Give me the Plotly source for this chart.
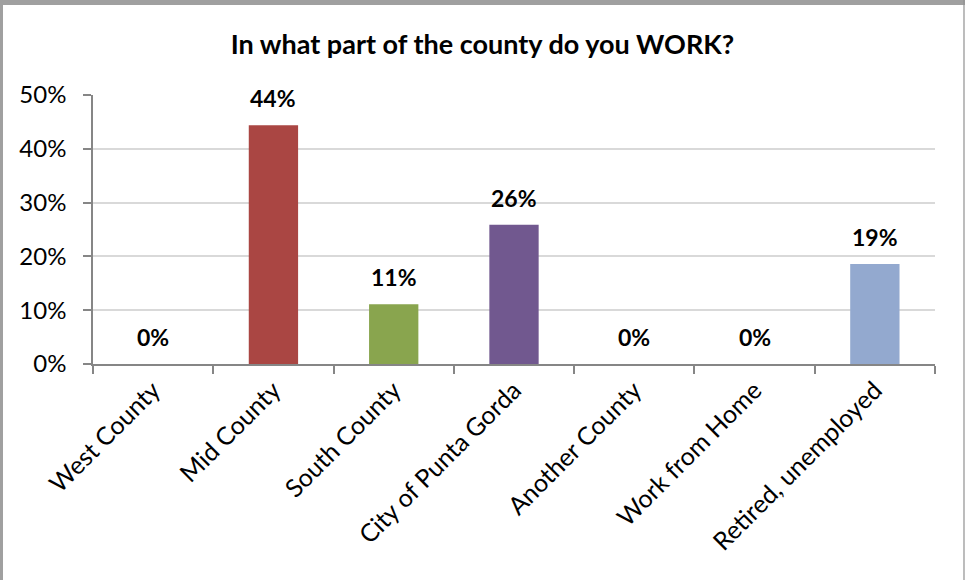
import plotly.graph_objects as go

# Survey responses: where respondents work
categories = ["West County", "Mid County", "South County", "City of Punta Gorda",
              "Another County", "Work from Home", "Retired, unemployed"]
shares = [0.0, 0.444, 0.111, 0.259, 0.0, 0.0, 0.186]
bar_colors = ["#4572A7", "#AA4643", "#89A54E", "#71588F", "#4198AF", "#DB843D", "#93A9CF"]
y_ticks = [0, 0.1, 0.2, 0.3, 0.4, 0.5]
y_tick_labels = ["0%", "10%", "20%", "30%", "40%", "50%"]

W, H = 965, 580
ML, MR, MT, MB = 93, 30, 95, 216
PW, PH = W - ML - MR, H - MT - MB

FONT = "Lato, 'Open Sans', sans-serif"

fig = go.Figure(go.Bar(
    x=categories, y=shares,
    marker=dict(color=bar_colors, line=dict(width=0)),
    width=0.41,
    hoverinfo="x+y",
))

# Bold value labels above each bar
for cat, v in zip(categories, shares):
    fig.add_annotation(
        x=cat, y=v, text=f"<b>{v:.0%}</b>", showarrow=False,
        yshift=27, font=dict(family=FONT, size=23, color="#000000"),
        xanchor="center", yanchor="middle",
    )

# Outer frame of the chart area (gray edges)
def px_x(p):
    return (p - ML) / PW

def px_y(p):
    return 1 - (p - MT) / PH

frame = "#A0A0A0"
fig.add_shape(type="rect", xref="paper", yref="paper",
              x0=px_x(0), x1=px_x(3), y0=px_y(H), y1=px_y(0),
              fillcolor=frame, line=dict(width=0), layer="below")
fig.add_shape(type="rect", xref="paper", yref="paper",
              x0=px_x(0), x1=px_x(W), y0=px_y(5), y1=px_y(0),
              fillcolor=frame, line=dict(width=0), layer="below")
fig.add_shape(type="line", xref="paper", yref="paper",
              x0=px_x(964), x1=px_x(964), y0=px_y(H), y1=px_y(0),
              line=dict(color="#909090", width=1.2))

fig.update_layout(
    width=W, height=H,
    margin=dict(l=ML, r=MR, t=MT, b=MB, autoexpand=False),
    paper_bgcolor="#FFFFFF", plot_bgcolor="#FFFFFF",
    showlegend=False,
    bargap=0.59,
    title=dict(text="<b>In what part of the county do you WORK?</b>",
               x=0.5, xref="container", xanchor="center",
               y=1 - 45 / H, yanchor="middle",
               font=dict(family=FONT, size=27, color="#000000")),
    font=dict(family=FONT, color="#000000"),
)

fig.update_xaxes(
    type="category", tickangle=-45, tickson="boundaries",
    ticks="outside", ticklen=8, tickcolor="#868686", tickwidth=1.5,
    showline=True, linecolor="#868686", linewidth=1.5,
    showgrid=False, tickfont=dict(family=FONT, size=25, color="#000000"),
    fixedrange=True,
)
fig.update_yaxes(
    range=[0, 0.5], tickvals=y_ticks, ticktext=y_tick_labels,
    ticks="outside", ticklen=8, tickcolor="#868686", tickwidth=1.5,
    showline=True, linecolor="#868686", linewidth=1.5,
    showgrid=True, gridcolor="#D9D9D9", gridwidth=1.5,
    zeroline=False, ticklabelstandoff=12,
    tickfont=dict(family=FONT, size=24, color="#000000"),
    fixedrange=True,
)

fig.write_html("out.html")
